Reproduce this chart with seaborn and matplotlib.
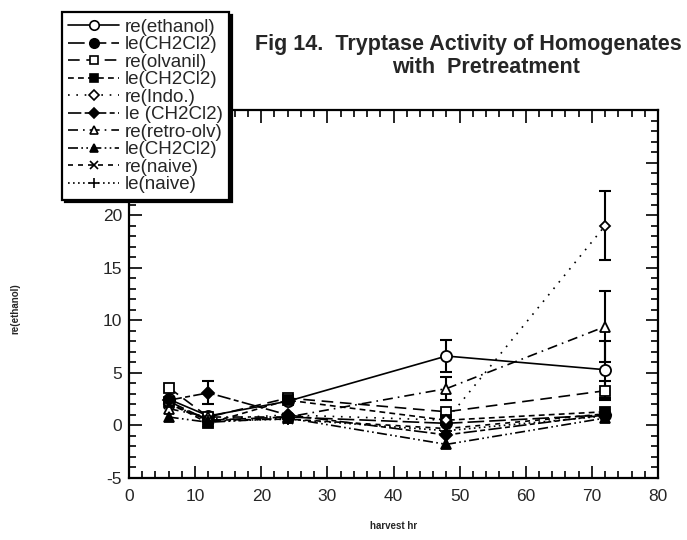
import numpy as np
import pandas as pd
import matplotlib
matplotlib.use("Agg")
import matplotlib.pyplot as plt
from matplotlib.ticker import MultipleLocator
import seaborn as sns

# harvest times (hr)
hours = [6, 12, 24, 48, 72]

labels = ["re(ethanol)", "le(CH2Cl2)", "re(olvanil)", "le(CH2Cl2)", "re(Indo.)",
          "le (CH2Cl2)", "re(retro-olv)", "le(CH2Cl2)", "re(naive)", "le(naive)"]

re_ethanol = [2.5, 0.9, 2.3, 6.6, 5.3]
le_ethanol = [2.3, 0.5, 0.8, 0.2, 1.0]
re_olvanil = [3.6, 0.8, 2.6, 1.3, 3.3]
le_olvanil = [2.2, 0.2, 2.4, 0.5, 1.3]
re_indo = [2.0, 0.6, 1.0, 0.5, 19.0]
le_indo = [2.4, 3.1, 1.0, -0.9, 1.0]
re_retro = [1.6, 0.8, 0.8, 3.5, 9.4]
le_retro = [0.8, 0.3, 0.7, -1.8, 0.7]
re_naive = [2.0, 0.5, 0.6, -0.3, 1.1]
le_naive = [2.2, 0.4, 0.6, -0.5, 0.9]

# standard errors (0 = none drawn)
err_re_ethanol = [0, 0, 0, 1.5, 2.7]
err_re_olvanil = [0, 0, 0, 0, 0.9]
err_re_indo = [0, 0, 0, 0, 3.3]
err_le_indo = [0, 1.1, 0, 0, 0]
err_re_retro = [0, 0, 0, 1.1, 3.4]

values = [re_ethanol, le_ethanol, re_olvanil, le_olvanil, re_indo,
          le_indo, re_retro, le_retro, re_naive, le_naive]
errors = [err_re_ethanol, None, err_re_olvanil, None, err_re_indo,
          err_le_indo, err_re_retro, None, None, None]

styles = [
    dict(marker="o", mfc="white", ms=8, ls="-"),
    dict(marker="o", mfc="black", ms=8, ls=(0, (10, 3))),
    dict(marker="s", mfc="white", ms=7, ls=(0, (7, 4))),
    dict(marker="s", mfc="black", ms=7, ls=(0, (3.5, 2.5))),
    dict(marker="D", mfc="white", ms=5.5, ls=(0, (1, 4))),
    dict(marker="D", mfc="black", ms=6, ls=(0, (8, 2, 3, 2))),
    dict(marker="^", mfc="white", ms=7, ls=(0, (6, 3, 1, 3))),
    dict(marker="^", mfc="black", ms=7, ls=(0, (6, 2, 1, 2, 1, 2))),
    dict(marker="x", mfc="black", ms=7, ls=(0, (3, 3))),
    dict(marker="+", mfc="black", ms=8, ls=(0, (1, 2))),
]

sns.set_theme(style="ticks")
plt.rcParams["font.family"] = ["Liberation Sans", "DejaVu Sans"]
plt.rcParams["axes.unicode_minus"] = False

fig = plt.figure(figsize=(6.87, 5.40), dpi=100)
ax = fig.add_axes([0.1878, 0.1148, 0.77, 0.6815])

for i, (lab, vals, st) in enumerate(zip(labels, values, styles)):
    df = pd.DataFrame({"harvest hr": hours, "value": vals})
    sns.lineplot(data=df, x="harvest hr", y="value", ax=ax, color="black",
                 marker=st["marker"], markersize=st["ms"],
                 markerfacecolor=st["mfc"], markeredgecolor="black",
                 markeredgewidth=1.3, linestyle=st["ls"], linewidth=1.2,
                 label=f"_{i}", legend=False, zorder=3)
    err = errors[i]
    if err is not None:
        e = np.array(err, dtype=float)
        m = e > 0
        ax.errorbar(np.array(hours)[m], np.array(vals)[m], yerr=e[m],
                    fmt="none", ecolor="black", elinewidth=1.5,
                    capsize=4, capthick=1.5, zorder=2)

ax.set_xlim(0, 80)
ax.set_ylim(-5, 30)
ax.xaxis.set_major_locator(MultipleLocator(10))
ax.xaxis.set_minor_locator(MultipleLocator(2))
ax.yaxis.set_major_locator(MultipleLocator(5))
ax.yaxis.set_minor_locator(MultipleLocator(1))
ax.tick_params(which="both", direction="in", top=True, right=True,
               color="black", width=1.2)
ax.tick_params(which="major", length=9, labelsize=12.5)
ax.tick_params(axis="x", which="major", pad=8)
ax.tick_params(axis="y", which="major", pad=5)
ax.tick_params(which="minor", length=5)
for sp in ax.spines.values():
    sp.set_linewidth(1.6)
    sp.set_color("black")

ax.set_xlabel("harvest hr", fontsize=7, fontweight="bold", labelpad=12)
ax.set_ylabel("re(ethanol)", fontsize=7, fontweight="bold")
ax.yaxis.set_label_coords(-0.206, 0.46)

# legend with one entry per series
handles = []
for lab, st in zip(labels, styles):
    h, = ax.plot([], [], color="black", marker=st["marker"], ms=st["ms"] * 0.85,
                 mfc=st["mfc"], mec="black", mew=1.2, ls=st["ls"], lw=1.2)
    handles.append(h)
leg = fig.legend(handles, labels, loc="upper left",
                 bbox_to_anchor=(0.090, 0.978), fontsize=13.5, numpoints=1,
                 handlelength=2.7, handletextpad=0.3, labelspacing=0.02,
                 borderpad=0.35, borderaxespad=0, fancybox=False, frameon=True,
                 shadow={"color": "black", "alpha": 1.0})
leg.get_frame().set_edgecolor("black")
leg.get_frame().set_linewidth(1.6)
leg.get_frame().set_facecolor("white")
leg.set_zorder(10)

fig.text(0.682, 0.918, "Fig 14.  Tryptase Activity of Homogenates",
         ha="center", va="center", fontsize=15.5, fontweight="bold")
fig.text(0.708, 0.875, "with  Pretreatment",
         ha="center", va="center", fontsize=15.5, fontweight="bold")

fig.savefig("out.png", dpi=100, facecolor="white")
